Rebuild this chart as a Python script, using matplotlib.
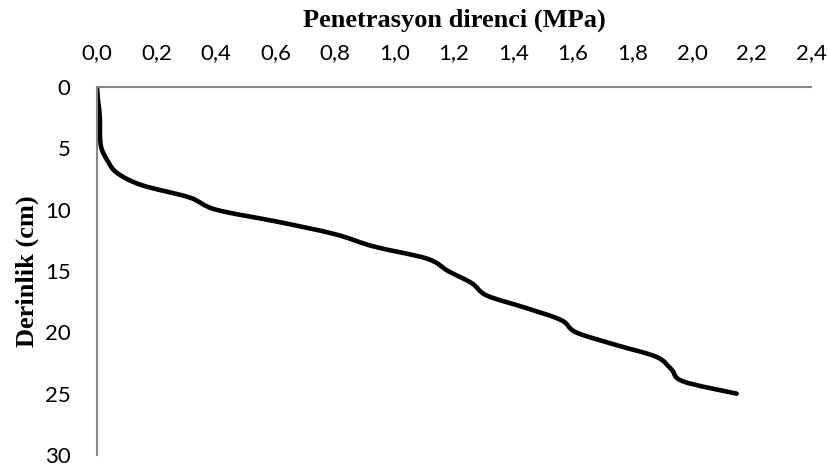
import numpy as np
import matplotlib
matplotlib.use("Agg")
import matplotlib.pyplot as plt
from matplotlib.path import Path
from matplotlib.patches import PathPatch
from matplotlib.ticker import FuncFormatter

# depth (cm) vs penetration resistance (MPa)
depth = [0, 1, 2, 3, 4, 5, 6, 7, 8, 9, 10, 11, 12, 13,
         14, 15, 16, 17, 18, 19, 20, 21, 22, 23, 24, 25]
resistance = [0.0, 0.003, 0.008, 0.01, 0.01, 0.015, 0.035, 0.067, 0.15, 0.31,
              0.40, 0.61, 0.80, 0.93, 1.11, 1.18, 1.26, 1.31, 1.44, 1.56,
              1.61, 1.74, 1.88, 1.93, 1.97, 2.15]

x_ticks = [0.0, 0.2, 0.4, 0.6, 0.8, 1.0, 1.2, 1.4, 1.6, 1.8, 2.0, 2.2, 2.4]
y_ticks = [0, 5, 10, 15, 20, 25, 30]


def smooth_path(xs, ys):
    """Excel-like smoothed line: Catmull-Rom segments as cubic Beziers."""
    p = np.column_stack([xs, ys]).astype(float)
    ext = np.vstack([p[0], p, p[-1]])
    verts = [p[0]]
    codes = [Path.MOVETO]
    for i in range(len(p) - 1):
        p0, p1, p2, p3 = ext[i], ext[i + 1], ext[i + 2], ext[i + 3]
        verts += [p1 + (p2 - p0) / 6, p2 - (p3 - p1) / 6, p2]
        codes += [Path.CURVE4] * 3
    return Path(verts, codes)


fig = plt.figure(figsize=(8.27, 4.68), dpi=100)
ax = fig.add_axes([0.1173, 0.0278, 0.8634, 0.7863])

patch = PathPatch(smooth_path(resistance, depth), facecolor="none",
                  edgecolor="black", lw=3.3, capstyle="round", joinstyle="round")
ax.add_patch(patch)

ax.set_xlim(0, 2.4)
ax.set_ylim(30, 0)
ax.xaxis.tick_top()
ax.xaxis.set_label_position("top")
ax.set_xticks(x_ticks)
ax.set_yticks(y_ticks)
ax.xaxis.set_major_formatter(FuncFormatter(lambda v, _: f"{v:.1f}".replace(".", ",")))
ax.tick_params(axis="x", length=0, pad=17, labelsize=16)
ax.tick_params(axis="y", length=0, pad=19, labelsize=16)
for lbl in ax.get_xticklabels() + ax.get_yticklabels():
    lbl.set_fontfamily("Lato")

for side in ["bottom", "right"]:
    ax.spines[side].set_visible(False)
for side in ["top", "left"]:
    ax.spines[side].set_color("#868686")
    ax.spines[side].set_linewidth(1.5)

ax.set_xlabel("Penetrasyon direnci (MPa)", fontsize=19, fontweight="bold",
              family="Liberation Serif", labelpad=12)
ax.set_ylabel("Derinlik (cm)", fontsize=19, fontweight="bold",
              family="Liberation Serif", labelpad=4)

fig.savefig("out.png", dpi=100)
